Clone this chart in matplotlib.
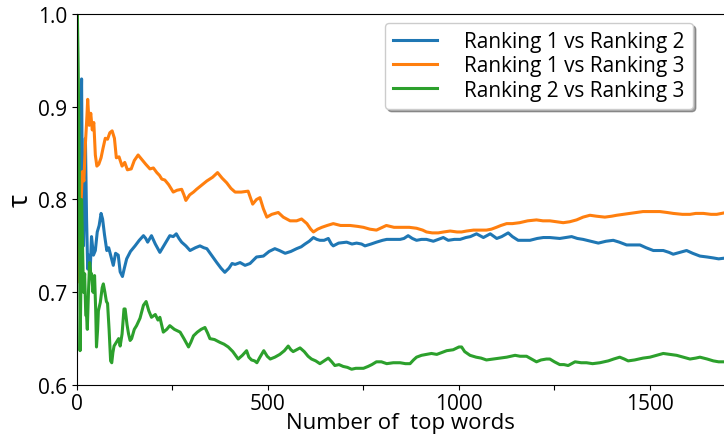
import matplotlib
matplotlib.use("Agg")
import matplotlib.pyplot as plt
from matplotlib.ticker import MultipleLocator, FuncFormatter

plt.rcParams['font.family'] = ['Open Sans', 'DejaVu Sans']

# Ranking 1 vs Ranking 2
x12 = [1, 3, 5, 7, 9, 12, 14, 17, 20, 22, 25, 28, 31, 34, 38, 43, 48, 53, 58, 63, 67, 72, 78, 83, 88, 95,
       101, 108, 113, 119, 124, 130, 140, 152, 163, 174, 180, 185, 195, 205, 217, 230, 243, 252, 260, 267,
       274, 285, 296, 310, 322, 332, 340, 352, 366, 377, 387, 398, 406, 414, 427, 440, 453, 470, 488, 503,
       518, 530, 545, 560, 575, 587, 597, 608, 619, 628, 636, 647, 658, 666, 671, 685, 706, 720, 732, 745,
       754, 770, 784, 800, 811, 828, 846, 856, 867, 878, 889, 902, 915, 933, 946, 959, 972, 988, 1003, 1018,
       1030, 1046, 1055, 1064, 1082, 1099, 1112, 1129, 1140, 1155, 1170, 1186, 1205, 1221, 1238, 1264, 1280,
       1295, 1310, 1325, 1345, 1365, 1385, 1404, 1420, 1439, 1455, 1474, 1490, 1509, 1520, 1535, 1550, 1561,
       1578, 1596, 1612, 1631, 1650, 1666, 1680, 1700]
y12 = [1.0, 0.80, 0.87, 0.72, 0.85, 0.93, 0.80, 0.75, 0.82, 0.866, 0.78, 0.725, 0.74, 0.718, 0.76, 0.74,
       0.745, 0.765, 0.772, 0.785, 0.779, 0.762, 0.745, 0.748, 0.740, 0.729, 0.742, 0.740, 0.722, 0.717,
       0.726, 0.736, 0.744, 0.750, 0.756, 0.761, 0.758, 0.754, 0.761, 0.752, 0.743, 0.752, 0.761, 0.760,
       0.763, 0.758, 0.754, 0.750, 0.745, 0.748, 0.750, 0.748, 0.747, 0.740, 0.732, 0.726, 0.7215, 0.726,
       0.731, 0.730, 0.732, 0.729, 0.731, 0.738, 0.739, 0.744, 0.747, 0.745, 0.742, 0.744, 0.747, 0.749,
       0.752, 0.755, 0.759, 0.757, 0.756, 0.756, 0.758, 0.752, 0.750, 0.753, 0.754, 0.752, 0.753, 0.752,
       0.750, 0.752, 0.754, 0.756, 0.757, 0.757, 0.757, 0.758, 0.761, 0.758, 0.756, 0.757, 0.757, 0.755,
       0.757, 0.759, 0.756, 0.757, 0.757, 0.759, 0.760, 0.763, 0.761, 0.759, 0.763, 0.758, 0.760, 0.764,
       0.760, 0.756, 0.756, 0.756, 0.758, 0.759, 0.759, 0.758, 0.759, 0.760, 0.758, 0.757, 0.755, 0.753,
       0.755, 0.756, 0.754, 0.751, 0.751, 0.751, 0.748, 0.745, 0.745, 0.745, 0.743, 0.741, 0.743, 0.745,
       0.742, 0.739, 0.738, 0.737, 0.736, 0.737]

# Ranking 1 vs Ranking 3
x13 = [1, 3, 5, 8, 11, 14, 18, 22, 26, 28, 32, 36, 40, 44, 48, 52, 57, 63, 68, 74, 80, 86, 92, 98, 103,
       110, 118, 125, 132, 142, 150, 160, 170, 180, 191, 200, 209, 216, 222, 230, 240, 252, 262, 274, 280,
       285, 295, 305, 313, 325, 340, 355, 368, 380, 392, 403, 414, 430, 448, 460, 470, 479, 488, 497, 510,
       527, 540, 558, 575, 588, 602, 612, 619, 630, 641, 655, 671, 690, 715, 735, 750, 767, 784, 800, 810,
       830, 846, 870, 889, 905, 915, 930, 946, 960, 977, 995, 1007, 1020, 1038, 1055, 1072, 1085, 1098, 1110,
       1125, 1140, 1159, 1180, 1203, 1220, 1238, 1255, 1273, 1290, 1308, 1325, 1343, 1360, 1382, 1400, 1413,
       1430, 1448, 1465, 1482, 1505, 1526, 1545, 1561, 1585, 1605, 1620, 1640, 1660, 1675, 1700]
y13 = [1.0, 0.72, 0.78, 0.71, 0.80, 0.83, 0.82, 0.86, 0.89, 0.908, 0.88, 0.893, 0.875, 0.883, 0.848, 0.836,
       0.838, 0.845, 0.855, 0.866, 0.865, 0.872, 0.874, 0.866, 0.845, 0.846, 0.836, 0.840, 0.832, 0.833,
       0.842, 0.848, 0.843, 0.838, 0.833, 0.834, 0.829, 0.826, 0.822, 0.821, 0.816, 0.808, 0.810, 0.811,
       0.805, 0.799, 0.805, 0.808, 0.811, 0.815, 0.820, 0.824, 0.829, 0.823, 0.818, 0.812, 0.808, 0.808,
       0.809, 0.795, 0.800, 0.802, 0.790, 0.781, 0.784, 0.786, 0.781, 0.777, 0.777, 0.779, 0.774, 0.768,
       0.765, 0.768, 0.770, 0.772, 0.774, 0.772, 0.772, 0.771, 0.770, 0.768, 0.767, 0.770, 0.772, 0.770,
       0.770, 0.770, 0.769, 0.767, 0.765, 0.764, 0.764, 0.765, 0.766, 0.765, 0.765, 0.766, 0.767, 0.767,
       0.767, 0.768, 0.770, 0.772, 0.774, 0.774, 0.775, 0.777, 0.778, 0.777, 0.777, 0.776, 0.775, 0.776,
       0.778, 0.781, 0.783, 0.782, 0.781, 0.782, 0.783, 0.784, 0.785, 0.786, 0.787, 0.787, 0.787, 0.786,
       0.785, 0.784, 0.784, 0.785, 0.785, 0.784, 0.784, 0.786]

# Ranking 2 vs Ranking 3
x23 = [1, 3, 5, 7, 8, 10, 12, 14, 17, 20, 23, 25, 27, 30, 33, 36, 38, 42, 46, 49, 51, 54, 56, 61, 66, 69,
       73, 77, 80, 84, 88, 91, 94, 97, 103, 109, 113, 118, 123, 126, 131, 135, 139, 143, 150, 156, 165, 174,
       181, 188, 195, 205, 212, 217, 226, 235, 243, 255, 270, 280, 292, 298, 305, 315, 325, 335, 342, 348,
       360, 374, 385, 396, 408, 422, 433, 444, 450, 457, 465, 471, 479, 489, 498, 506, 518, 531, 543, 553,
       560, 566, 575, 584, 595, 605, 614, 625, 636, 647, 658, 667, 675, 686, 697, 708, 719, 730, 740, 750,
       762, 772, 784, 797, 811, 828, 846, 860, 872, 881, 889, 902, 915, 928, 942, 955, 968, 985, 1000, 1007,
       1015, 1029, 1045, 1058, 1072, 1090, 1107, 1125, 1147, 1160, 1177, 1190, 1203, 1215, 1229, 1238, 1250,
       1264, 1275, 1286, 1304, 1320, 1334, 1350, 1369, 1380, 1391, 1405, 1421, 1433, 1443, 1460, 1482, 1500,
       1518, 1535, 1552, 1570, 1588, 1605, 1620, 1631, 1650, 1666, 1680, 1700]
y23 = [1.0, 0.94, 0.87, 0.74, 0.637, 0.70, 0.80, 0.76, 0.70, 0.72, 0.675, 0.675, 0.66, 0.70, 0.732, 0.72,
       0.72, 0.70, 0.718, 0.68, 0.641, 0.66, 0.68, 0.689, 0.705, 0.709, 0.70, 0.69, 0.688, 0.66, 0.626,
       0.624, 0.635, 0.642, 0.646, 0.650, 0.642, 0.655, 0.682, 0.682, 0.665, 0.655, 0.648, 0.650, 0.660,
       0.664, 0.672, 0.686, 0.690, 0.680, 0.673, 0.676, 0.670, 0.673, 0.657, 0.660, 0.664, 0.660, 0.657,
       0.650, 0.641, 0.646, 0.653, 0.657, 0.660, 0.662, 0.656, 0.650, 0.649, 0.646, 0.644, 0.641, 0.636,
       0.628, 0.632, 0.637, 0.630, 0.627, 0.626, 0.624, 0.630, 0.637, 0.631, 0.628, 0.630, 0.633, 0.637,
       0.642, 0.638, 0.636, 0.638, 0.640, 0.636, 0.631, 0.628, 0.626, 0.623, 0.626, 0.629, 0.625, 0.621,
       0.622, 0.620, 0.619, 0.617, 0.618, 0.618, 0.618, 0.620, 0.622, 0.625, 0.625, 0.623, 0.624, 0.624,
       0.623, 0.623, 0.627, 0.630, 0.632, 0.633, 0.634, 0.633, 0.635, 0.637, 0.638, 0.641, 0.641, 0.636,
       0.632, 0.630, 0.629, 0.627, 0.628, 0.629, 0.630, 0.632, 0.631, 0.631, 0.628, 0.625, 0.627, 0.628,
       0.628, 0.625, 0.622, 0.622, 0.621, 0.625, 0.624, 0.624, 0.623, 0.624, 0.625, 0.626, 0.628, 0.630,
       0.628, 0.626, 0.627, 0.629, 0.630, 0.632, 0.634, 0.633, 0.632, 0.630, 0.628, 0.629, 0.630, 0.628,
       0.626, 0.625, 0.625]

labels = ["Ranking 1 vs Ranking 2", "Ranking 1 vs Ranking 3", "Ranking 2 vs Ranking 3"]

fig = plt.figure(figsize=(7.24, 4.39), dpi=100)
ax = fig.add_axes([77/724, 53/439, 1 - 77/724, (386 - 15)/439])

ax.plot(x12, y12, color='#1f77b4', lw=2.2, label=labels[0])
ax.plot(x13, y13, color='#ff7f0e', lw=2.2, label=labels[1])
ax.plot(x23, y23, color='#2ca02c', lw=2.2, label=labels[2])

ax.set_xlim(0, 1694)
ax.set_ylim(0.6, 1.0)
ax.spines['right'].set_visible(False)
ax.xaxis.set_major_locator(MultipleLocator(250))
ax.xaxis.set_major_formatter(FuncFormatter(lambda v, p: "%d" % v if v % 500 == 0 else ""))
ax.yaxis.set_major_locator(MultipleLocator(0.1))
ax.tick_params(labelsize=15)
ax.tick_params(axis='x', pad=2)

ax.set_xlabel("Number of  top words", fontsize=16, labelpad=-1)
ax.set_ylabel("τ", fontsize=20, labelpad=2)

leg = ax.legend(loc='upper right', bbox_to_anchor=(693/724, (439 - 24)/439),
                bbox_transform=fig.transFigure, borderaxespad=0, fontsize=15,
                shadow=True, handlelength=2.1, handletextpad=1.3, labelspacing=0.15)

plt.savefig('out.png', dpi=100)
